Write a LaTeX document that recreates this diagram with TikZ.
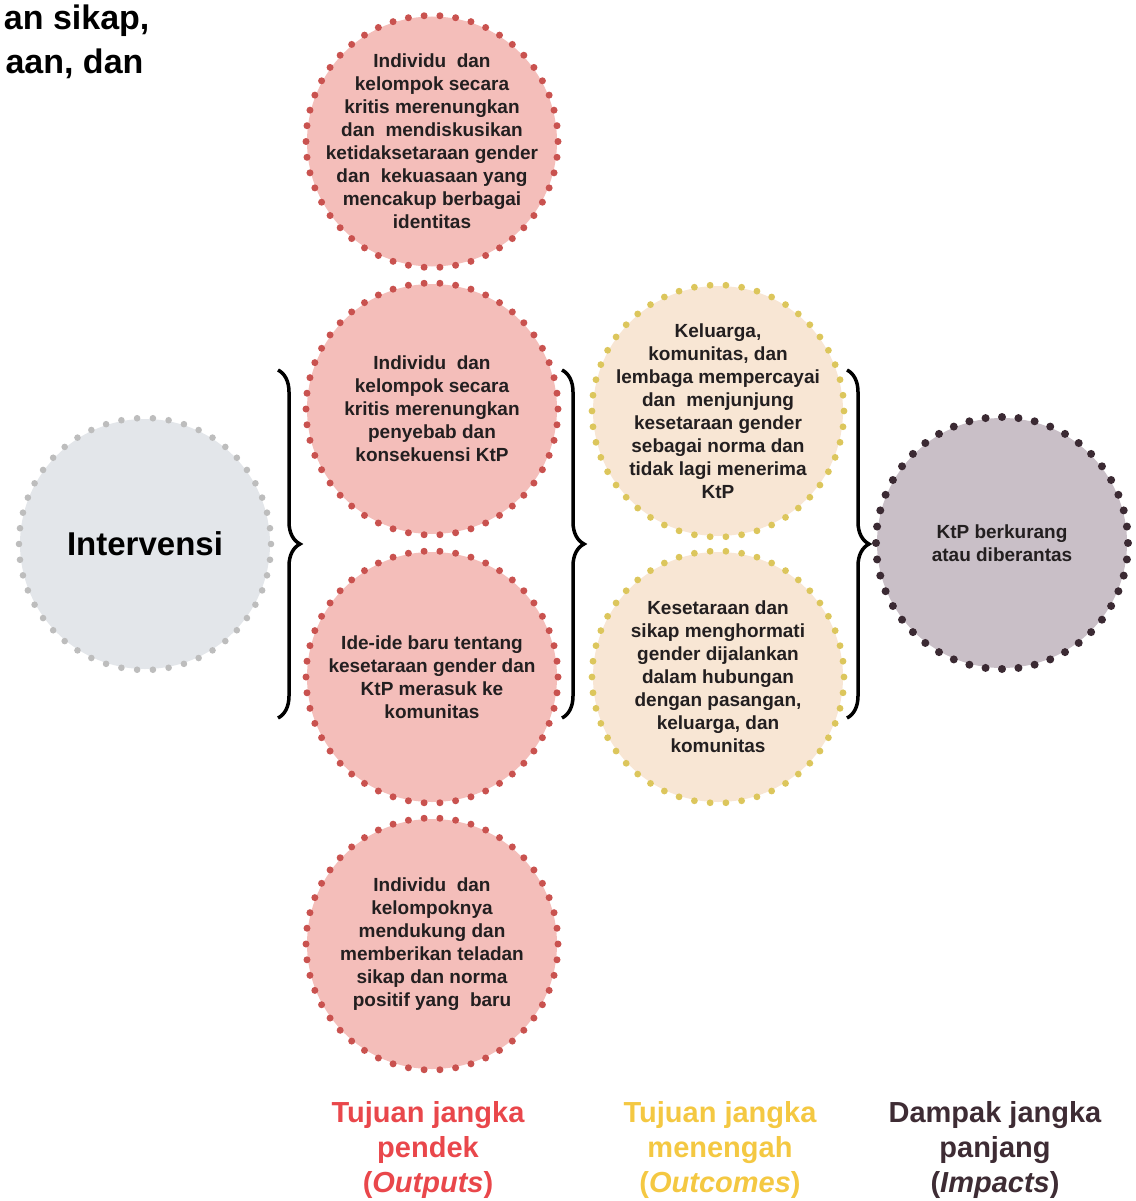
\documentclass[tikz,border=0pt]{standalone}
\usepackage{fontspec}
\setmainfont{Liberation Sans}
\usetikzlibrary{decorations.pathreplacing,backgrounds}

\definecolor{redfill}{HTML}{F4BEBA}
\definecolor{reddot}{HTML}{C9524F}
\definecolor{yelfill}{HTML}{F8E6D4}
\definecolor{yeldot}{HTML}{DCC65C}
\definecolor{darkfill}{HTML}{C9BFC7}
\definecolor{darkdot}{HTML}{3B2A33}
\definecolor{greyfill}{HTML}{E3E6EA}
\definecolor{greydot}{HTML}{BDBDBD}
\definecolor{bodytext}{HTML}{231F20}
\definecolor{lblred}{HTML}{E9474B}
\definecolor{lblyel}{HTML}{F4C842}
\definecolor{lbldark}{HTML}{3E2C34}

% disc behind a bubble plus a ring of round dots on its edge:
% node, fill colour, dot colour, dot count, dot radius
\newcommand{\dotring}[5]{%
  \begin{pgfonlayer}{background}
    \fill[#2] (#1.center) circle (125pt);
  \end{pgfonlayer}
  \foreach \j in {1,...,#4}{%
    \fill[#3] ([shift={({(360/#4)*\j}:126pt)}]#1.center) circle (#5);}}

\tikzset{
  bubble/.style={inner sep=0pt, align=center,
    text=bodytext, font=\bfseries\fontsize{19}{23}\selectfont},
  start/.style={bubble, text=black,
    font=\bfseries\fontsize{33}{38}\selectfont},
  bracket/.style={decorate, decoration={brace, amplitude=22pt},
    line width=3.5pt, black},
  caption/.style={align=center, font=\bfseries\fontsize{29}{35}\selectfont},
  heading/.style={anchor=base east, font=\bfseries\fontsize{34}{40}\selectfont}
}

\begin{document}
\begin{tikzpicture}[x=1pt, y=-1pt]
\useasboundingbox (0,0) rectangle (1135,1201);

% cut-off heading at the top left
\node[heading] (h1) at (153,30) {an sikap,};
\node[heading] (h2) at (147,74) {aan, dan};

% starting point
\node[start] (iv) at (145,544) {Intervensi};

% short-term goals
\node[bubble] (s1) at (432,141.5) {Individu\ \ dan\\kelompok secara\\kritis merenungkan\\dan\ \ mendiskusikan\\ketidaksetaraan gender\\dan\ \ kekuasaan yang\\mencakup berbagai\\identitas};
\node[bubble] (s2) at (432,409) {Individu\ \ dan\\kelompok secara\\kritis merenungkan\\penyebab dan\\konsekuensi KtP};
\node[bubble] (s3) at (432,677) {Ide-ide baru tentang\\kesetaraan gender dan\\KtP merasuk ke\\komunitas};
\node[bubble] (s4) at (432,944) {Individu\ \ dan\\kelompoknya\\mendukung dan\\memberikan teladan\\sikap dan norma\\positif yang\ \ baru};

% medium-term goals
\node[bubble] (m1) at (718,411) {Keluarga,\\komunitas, dan\\lembaga mempercayai\\dan\ \ menjunjung\\kesetaraan gender\\sebagai norma dan\\tidak lagi menerima\\KtP};
\node[bubble] (m2) at (718,677) {Kesetaraan dan\\sikap menghormati\\gender dijalankan\\dalam hubungan\\dengan pasangan,\\keluarga, dan\\komunitas};

% long-term impact
\node[bubble] (l1) at (1002,543) {KtP berkurang\\atau diberantas};

% discs and dotted outlines
\dotring{iv}{greyfill}{greydot}{50}{3.3pt}
\dotring{s1}{redfill}{reddot}{50}{3.5pt}
\dotring{s2}{redfill}{reddot}{50}{3.5pt}
\dotring{s3}{redfill}{reddot}{50}{3.5pt}
\dotring{s4}{redfill}{reddot}{50}{3.5pt}
\dotring{m1}{yelfill}{yeldot}{50}{3.4pt}
\dotring{m2}{yelfill}{yeldot}{50}{3.4pt}
\dotring{l1}{darkfill}{darkdot}{48}{4pt}

% grouping braces
\coordinate (b1t) at (278,370);
\coordinate (b1b) at (278,718);
\coordinate (b2t) at (562,370);
\coordinate (b2b) at (562,718);
\coordinate (b3t) at (847,370);
\coordinate (b3b) at (847,718);
\draw[bracket] (b1t) -- (b1b);
\draw[bracket] (b2t) -- (b2b);
\draw[bracket] (b3t) -- (b3b);

% column captions
\node[caption, text=lblred] (c1) at (428,1150) {Tujuan jangka\\pendek\\(\textit{Outputs})};
\node[caption, text=lblyel] (c2) at (720,1150) {Tujuan jangka\\menengah\\(\textit{Outcomes})};
\node[caption, text=lbldark] (c3) at (995,1150) {Dampak jangka\\panjang\\(\textit{Impacts})};
\end{tikzpicture}
\end{document}
